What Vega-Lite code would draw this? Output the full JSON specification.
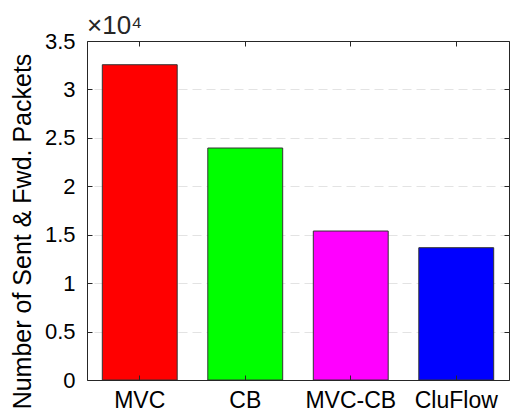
{
  "$schema": "https://vega.github.io/schema/vega-lite/v6.json",
  "width": 422,
  "height": 339,
  "autosize": "none",
  "padding": {"left": 87, "top": 41, "right": 1, "bottom": 34},
  "background": "white",
  "config": {"view": {"stroke": null}, "font": "Liberation Sans", "title": {"fontSize": 26, "fontWeight": "normal", "color": "#262626"}},
  "title": {"text": "×10⁴", "anchor": "start", "frame": "group", "offset": 8, "dy": 38, "fontSize": 26, "fontWeight": "normal", "font": "Liberation Sans", "color": "#262626", "baseline": "alphabetic"},
  "data": {"values": [
    {"method": "MVC", "packets": 32550},
    {"method": "CB", "packets": 23950},
    {"method": "MVC-CB", "packets": 15380},
    {"method": "CluFlow", "packets": 13660}
  ]},
  "layer": [
    {
      "mark": {"type": "bar", "stroke": "#333333", "strokeWidth": 1},
      "encoding": {
        "x": {"field": "method", "type": "nominal", "sort": null,
          "scale": {"paddingInner": 0.29, "paddingOuter": 0.145},
          "axis": {"orient": "bottom", "title": null, "labelAngle": 0, "labelFontSize": 23, "labelFont": "Liberation Sans", "labelColor": "#000000", "tickSize": -5, "labelPadding": 14, "domainColor": "#262626", "tickColor": "#262626", "grid": false, "zindex": 1}},
        "y": {"field": "packets", "type": "quantitative",
          "scale": {"domain": [0, 35000], "nice": false},
          "axis": {"orient": "left", "values": [0, 5000, 10000, 15000, 20000, 25000, 30000, 35000], "labelExpr": "datum.value / 10000", "labelFontSize": 22, "labelFont": "Liberation Sans", "labelColor": "#000000", "tickSize": -5, "labelPadding": 17, "domainColor": "#262626", "tickColor": "#262626", "grid": false, "zindex": 1,
            "title": "Number of Sent & Fwd. Packets", "titleFontSize": 25, "titleFont": "Liberation Sans", "titleFontWeight": "normal", "titleColor": "#000000", "titleAngle": -90, "titleAlign": "center", "titleBaseline": "alphabetic", "titleX": -57, "titleY": 190}},
        "color": {"field": "method", "type": "nominal",
          "scale": {"domain": ["MVC", "CB", "MVC-CB", "CluFlow"], "range": ["#ff0000", "#00ff00", "#ff00ff", "#0000ff"]},
          "legend": null}
      }
    },
    {
      "mark": {"type": "bar", "opacity": 0},
      "encoding": {
        "x": {"field": "method", "type": "nominal", "sort": null,
          "axis": {"orient": "top", "title": null, "labels": false, "tickSize": -5, "domainColor": "#262626", "tickColor": "#262626", "grid": false, "zindex": 1}},
        "y": {"field": "packets", "type": "quantitative",
          "axis": {"orient": "right", "title": null, "labels": false, "values": [0, 5000, 10000, 15000, 20000, 25000, 30000, 35000], "tickSize": -5, "domainColor": "#262626", "tickColor": "#262626", "grid": true, "gridColor": "#e3e3e3", "gridDash": [9, 5], "gridWidth": 1, "zindex": 0}}
      }
    }
  ],
  "resolve": {"axis": {"x": "independent", "y": "independent"}}
}
